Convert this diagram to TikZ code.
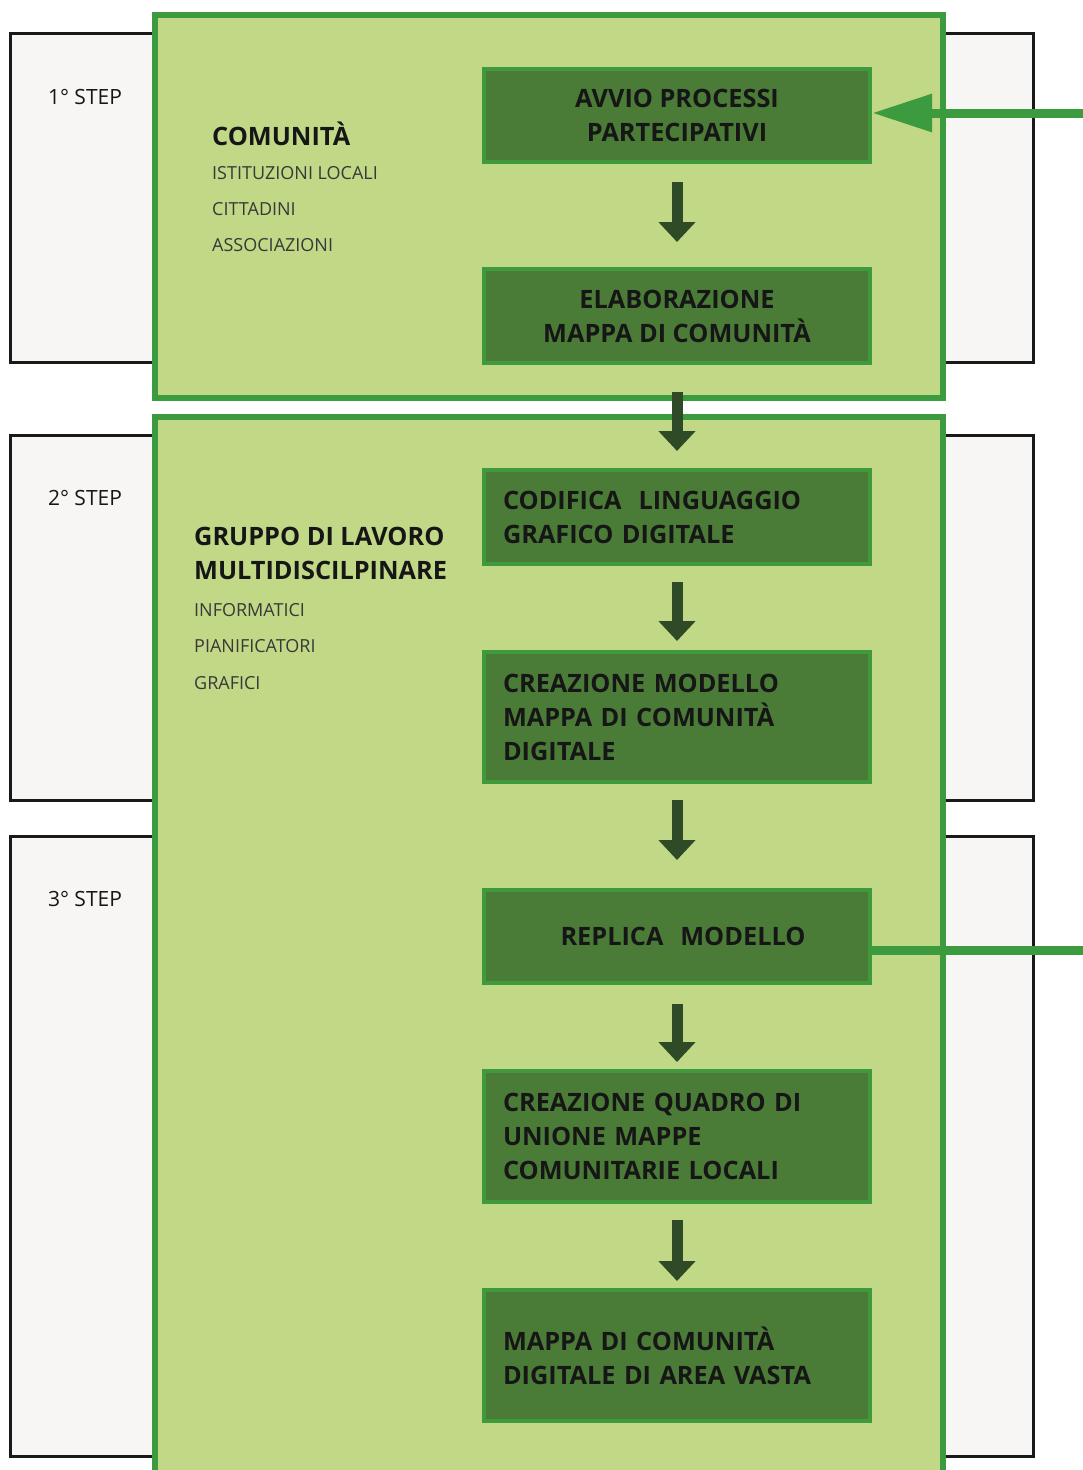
\documentclass[tikz,border=0pt]{standalone}
\usepackage{fontspec}
\setmainfont{Open Sans}
\usetikzlibrary{arrows.meta}
\definecolor{lightg}{HTML}{C1D886}
\definecolor{borderg}{HTML}{3C9B3F}
\definecolor{darkg}{HTML}{4A7C37}
\definecolor{boxborder}{HTML}{3F9A3C}
\definecolor{arrowc}{HTML}{2F4A27}
\definecolor{stepfill}{HTML}{F7F6F4}
\definecolor{textc}{HTML}{161616}
\tikzset{
  stepframe/.style={draw=black!90, line width=3pt, fill=stepfill},
  outerg/.style={draw=borderg, line width=6pt, fill=lightg},
  procbox/.style={draw=boxborder, line width=4pt, fill=darkg, minimum width=386pt, inner sep=0pt, text=textc, font=\fontsize{25.3}{34}\selectfont\bfseries},
  cbox/.style={procbox, align=center},
  lbox/.style={procbox, align=left, text width=348pt, inner xsep=19pt},
  steplabel/.style={font=\fontsize{21}{28}\selectfont, text=textc, inner sep=0pt},
  grouphead/.style={anchor=west, inner sep=0pt, text=textc, font=\fontsize{25.3}{34}\selectfont\bfseries, align=left},
  groupitem/.style={anchor=west, inner sep=0pt, text=textc!85, font=\fontsize{18}{22}\selectfont},
  downarrow/.style={draw=arrowc, line width=11pt, -{Triangle[width=36pt,length=20pt]}},
  feedback/.style={draw=borderg, line width=9pt}
}
\begin{document}
\begin{tikzpicture}[x=1pt,y=-1pt]
\useasboundingbox (0,0) rectangle (1083,1470);
\fill[white] (0,0) rectangle (1083,1470);
\clip (0,0) rectangle (1083,1470);

% step frames
\path[stepframe] (10,33) rectangle (1033,362);
\path[stepframe] (10,435) rectangle (1033,800);
\path[stepframe] (10,836) rectangle (1033,1456);
\node[steplabel] (s1) at (85,97) {1° STEP};
\node[steplabel] (s2) at (85,498) {2° STEP};
\node[steplabel] (s3) at (85,899) {3° STEP};

% outer green panels
\path[outerg] (155,15) rectangle (943,398);
\path[outerg] (155,417) rectangle (943,1490);

% left labels
\node[grouphead] (com) at (212,134) {COMUNITÀ};
\node[groupitem] (ist) at (212,173) {ISTITUZIONI LOCALI};
\node[groupitem] (cit) at (212,209) {CITTADINI};
\node[groupitem] (ass) at (212,245) {ASSOCIAZIONI};
\node[grouphead] (grp) at (194,553) {GRUPPO DI LAVORO\\MULTIDISCILPINARE};
\node[groupitem] (inf) at (194,610) {INFORMATICI};
\node[groupitem] (pia) at (194,646) {PIANIFICATORI};
\node[groupitem] (gra) at (194,683) {GRAFICI};

% process boxes
\node[cbox, minimum height=93pt] (avvio) at (677,115.5) {AVVIO PROCESSI\\PARTECIPATIVI};
\node[cbox, minimum height=94pt] (elab) at (677,316) {ELABORAZIONE\\MAPPA DI COMUNITÀ};
\node[lbox, minimum height=94pt] (cod) at (677,517) {CODIFICA\ \ LINGUAGGIO\\GRAFICO DIGITALE};
\node[lbox, minimum height=130pt] (crea) at (677,717) {CREAZIONE MODELLO\\MAPPA DI COMUNITÀ\\DIGITALE};
\node[cbox, minimum height=93pt, text width=386pt] (rep) at (677,936.5) {\hspace*{12pt}REPLICA\ \ MODELLO};
\node[lbox, minimum height=131pt] (quad) at (677,1136.5) {CREAZIONE QUADRO DI\\UNIONE MAPPE\\COMUNITARIE LOCALI};
\node[lbox, minimum height=131pt] (vasta) at (677,1355.5) {MAPPA DI COMUNITÀ\\DIGITALE DI AREA VASTA};

% down arrows
\draw[downarrow, shorten <=18pt, shorten >=25pt] (avvio) -- (elab);
\draw[downarrow, shorten <=27pt, shorten >=17pt] (elab) -- (cod);
\draw[downarrow, shorten <=16pt, shorten >=9pt] (cod) -- (crea);
\draw[downarrow, shorten <=16pt, shorten >=28pt] (crea) -- (rep);
\draw[downarrow, shorten <=19pt, shorten >=7pt] (rep) -- (quad);
\draw[downarrow, shorten <=16pt, shorten >=7pt] (quad) -- (vasta);

% feedback loop
\coordinate (fbout) at (1090,950);
\coordinate (fbin) at (1090,113);
\draw[feedback] (rep.east |- fbout) -- (fbout);
\draw[feedback, -{Triangle[width=36pt,length=60pt]}] (fbin) -- (avvio.east |- fbin);
\end{tikzpicture}
\end{document}
